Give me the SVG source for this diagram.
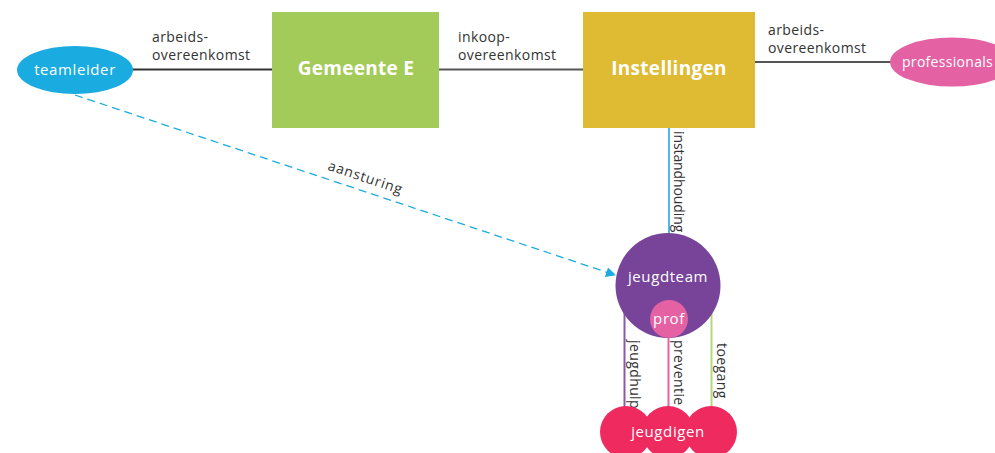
<svg xmlns="http://www.w3.org/2000/svg" width="995" height="453" viewBox="0 0 995 453">
<defs>
<style>
.lbl{font-family:"Open Sans","Noto Sans",sans-serif;font-size:14px;fill:#333333;letter-spacing:0.4px}
.wt{font-family:"Open Sans","Noto Sans",sans-serif;fill:#ffffff;letter-spacing:0.6px}
.big{font-family:"Open Sans","Noto Sans",sans-serif;font-size:19px;font-weight:bold;fill:#ffffff;letter-spacing:0.3px}
.ln{fill:none;stroke-width:2}
</style>
<marker id="arr" viewBox="0 0 10 10" refX="9" refY="5" markerWidth="11" markerHeight="10" orient="auto" markerUnits="userSpaceOnUse">
<path d="M0,0 L10,5 L0,10 z" fill="#1aabe0"/>
</marker>
</defs>
<rect width="995" height="453" fill="#ffffff"/>
<g id="connectors">
<line class="ln" x1="133" y1="69.5" x2="272" y2="69.5" stroke="#333333" stroke-width="1.5"/>
<line class="ln" x1="439" y1="69.5" x2="583" y2="69.5" stroke="#555555" stroke-width="1.5"/>
<line class="ln" x1="755" y1="62" x2="892" y2="62" stroke="#555555" stroke-width="1.5"/>
<line class="ln" x1="669" y1="128" x2="669" y2="234" stroke="#4fb8e6"/>
<line class="ln" x1="624.5" y1="312" x2="624.5" y2="408" stroke="#8a5aa8"/>
<line class="ln" x1="668.5" y1="338" x2="668.5" y2="408" stroke="#e462a4"/>
<line class="ln" x1="711.5" y1="312" x2="711.5" y2="408" stroke="#b5d77a"/>
<line x1="75" y1="95" x2="615" y2="275" stroke="#1aabe0" stroke-width="1.3" stroke-dasharray="8,5" marker-end="url(#arr)"/>
<text class="lbl" x="152" y="42">arbeids-</text>
<text class="lbl" x="152" y="60">overeenkomst</text>
<text class="lbl" x="458" y="42">inkoop-</text>
<text class="lbl" x="458" y="60">overeenkomst</text>
<text class="lbl" x="768" y="35">arbeids-</text>
<text class="lbl" x="768" y="53">overeenkomst</text>
<text class="lbl" transform="translate(364,182) rotate(18.5)" text-anchor="middle" font-size="16" style="letter-spacing:0.8px">aansturing</text>
<text class="lbl" transform="translate(674,131) rotate(90)" font-size="13" style="letter-spacing:-0.1px">instandhouding</text>
<text class="lbl" transform="translate(630,340) rotate(90)" font-size="13">jeugdhulp</text>
<text class="lbl" transform="translate(674,340) rotate(90)" font-size="13">preventie</text>
<text class="lbl" transform="translate(717,343) rotate(90)" font-size="13">toegang</text>
</g>
<g id="teamleider">
<ellipse cx="75" cy="70" rx="58" ry="24" fill="#1aabe0"/>
<text class="wt" x="75" y="75" text-anchor="middle" font-size="15">teamleider</text>
</g>
<g id="gemeente">
<rect x="272" y="12" width="167" height="116" fill="#a3cb59"/>
<text class="big" x="356" y="75" text-anchor="middle">Gemeente E</text>
</g>
<g id="instellingen">
<rect x="583" y="12" width="172" height="116" fill="#dfba33"/>
<text class="big" x="669" y="75" text-anchor="middle">Instellingen</text>
</g>
<g id="professionals">
<ellipse cx="952" cy="62" rx="62" ry="24.5" fill="#e462a4"/>
<text class="wt" x="902" y="67" font-size="14" style="letter-spacing:0.3px">professionals</text>
</g>
<g id="jeugdteam">
<circle cx="668" cy="285.5" r="52.5" fill="#774499"/>
<text class="wt" x="668" y="282" text-anchor="middle" font-size="15">jeugdteam</text>
</g>
<g id="prof">
<circle cx="669" cy="319" r="19" fill="#e462a4"/>
<text class="wt" x="669" y="324" text-anchor="middle" font-size="15">prof</text>
</g>
<g id="jeugdigen">
<circle cx="626" cy="432" r="26" fill="#ee2a5e"/>
<circle cx="711" cy="432" r="26" fill="#ee2a5e"/>
<circle cx="668" cy="432" r="26" fill="#ee2a5e"/>
<text class="wt" x="668" y="437" text-anchor="middle" font-size="15">jeugdigen</text>
</g>
</svg>
